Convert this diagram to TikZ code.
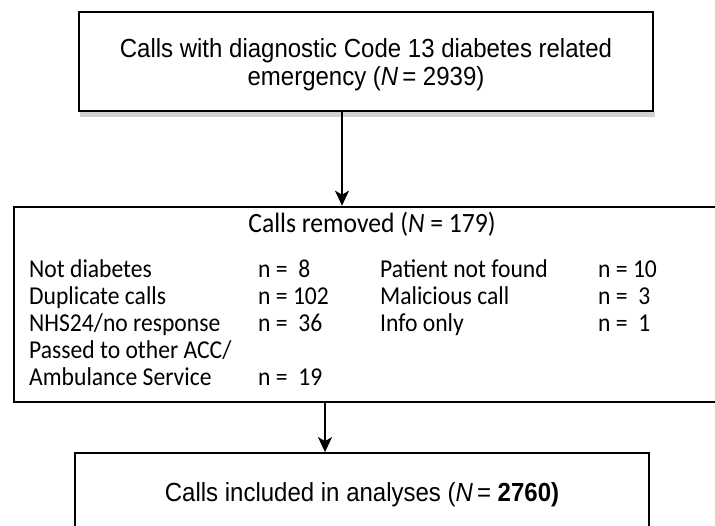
\documentclass[tikz,border=0pt]{standalone}
\usepackage{fontspec}
\usepackage{graphicx}
\setmainfont{Liberation Sans}
\newfontfamily\calibri{Carlito}
\usetikzlibrary{arrows.meta}
% the reference letters are a little taller than wide
\newcommand{\tallx}[1]{\scalebox{1}[1.09]{#1}}

\begin{document}
\begin{tikzpicture}[x=1pt,y=-1pt,
    flowbox/.style={draw, rectangle, line width=1.8pt, inner sep=0pt},
    flowarrow/.style={-{Stealth[length=15pt,width=14pt,inset=4pt]}, line width=2pt},
    boxtext/.style={inner sep=0pt, align=center, font=\fontsize{24}{28}\selectfont},
    item/.style={anchor=base west, inner sep=0pt, font=\calibri\fontsize{23.6}{27}\selectfont}]
  \useasboundingbox (0,0) rectangle (715,525);
  \clip (0,0) rectangle (715,525);
  % shadow of the first box
  \fill[black!18] (80,111) rectangle (655,117);
  \node[flowbox, minimum width=574pt, minimum height=99pt] (start) at (366,61.5) {};
  \node[boxtext, yshift=-3pt] (starttext) at (start.center)
        {\tallx{Calls with diagnostic Code 13 diabetes related}\\\tallx{emergency (\textit{N}\,= 2939)}};
  \node[flowbox, line width=2.6pt, minimum width=716pt, minimum height=195pt] (removed) at (372,304.5) {};
  \node[flowbox, minimum width=574pt, minimum height=84pt] (included) at (362,495) {};
  \node[boxtext] (includedtext) at (included.center)
        {\tallx{Calls included in analyses (\textit{N}\,= \textbf{2760)}}};
  % reasons for removal
  \node[anchor=base, inner sep=0pt, font=\calibri\fontsize{25.6}{30}\selectfont] (title) at (372,232)
        {\tallx{Calls removed (\textit{N} = 179)}};
  \node[item] (notdiab) at (29,277.5) {\tallx{Not diabetes}};
  \node[item] (notdiabn) at (258,277.5) {\tallx{n =\ \ 8}};
  \node[item] (dupl) at (29,304.5) {\tallx{Duplicate calls}};
  \node[item] (dupln) at (258,304.5) {\tallx{n = 102}};
  \node[item] (nhs) at (29,331.5) {\tallx{NHS24/no response}};
  \node[item] (nhsn) at (258,331.5) {\tallx{n =\ \ 36}};
  \node[item] (passed) at (29,358.5) {\tallx{Passed to other ACC/}};
  \node[item] (amb) at (29,385.5) {\tallx{Ambulance Service}};
  \node[item] (ambn) at (258,385.5) {\tallx{n =\ \ 19}};
  \node[item] (notfound) at (380,277.5) {\tallx{Patient not found}};
  \node[item] (notfoundn) at (598,277.5) {\tallx{n = 10}};
  \node[item] (malic) at (380,304.5) {\tallx{Malicious call}};
  \node[item] (malicn) at (598,304.5) {\tallx{n =\ \ 3}};
  \node[item] (info) at (380,331.5) {\tallx{Info only}};
  \node[item] (infon) at (598,331.5) {\tallx{n =\ \ 1}};
  % arrows
  \draw[flowarrow] ([xshift=-24pt]start.south) -- ([xshift=-24pt]start.south |- removed.north);
  \draw[flowarrow] ([xshift=-47pt]removed.south) -- ([xshift=-47pt]removed.south |- included.north);
\end{tikzpicture}
\end{document}
